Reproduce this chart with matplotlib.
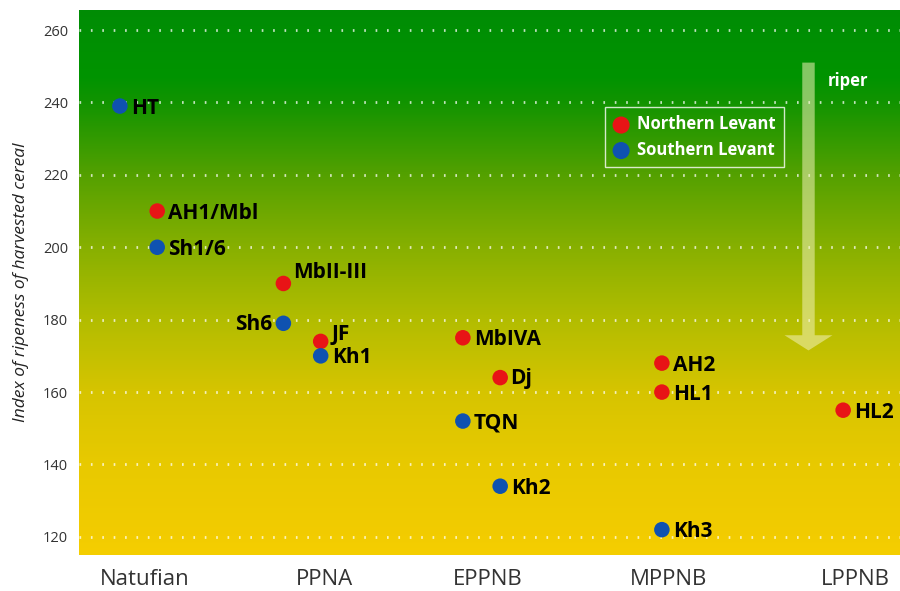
import numpy as np
import matplotlib
matplotlib.use("Agg")
import matplotlib.pyplot as plt
from matplotlib.colors import LinearSegmentedColormap
from matplotlib.patches import FancyArrow

periods = ["Natufian", "PPNA", "EPPNB", "MPPNB", "LPPNB"]
period_pos = [0.0, 1.01, 1.93, 2.95, 4.0]

north_sites = ["AH1/Mbl", "MbII-III", "JF", "MbIVA", "Dj", "AH2", "HL1", "HL2"]
north_x = [0.07, 0.78, 0.99, 1.79, 2.0, 2.91, 2.91, 3.93]
north_y = [210, 190, 174, 175, 164, 168, 160, 155]

south_sites = ["HT", "Sh1/6", "Sh6", "Kh1", "TQN", "Kh2", "Kh3"]
south_x = [-0.14, 0.07, 0.78, 0.99, 1.79, 2.0, 2.91]
south_y = [239, 200, 179, 170, 152, 134, 122]

yticks = [120, 140, 160, 180, 200, 220, 240, 260]

fig = plt.figure(figsize=(9, 5.91), dpi=100)
ax = fig.add_axes([0.0878, 0.0609, 0.9122, 0.922])
xlim = (-0.37, 4.25)
ylim = (115.0, 265.5)

cmap = LinearSegmentedColormap.from_list("ripe", [
    (0.0, (0.96, 0.81, 0.0)),
    (0.033, (0.95, 0.80, 0.0)),
    (0.166, (0.91, 0.79, 0.0)),
    (0.299, (0.84, 0.77, 0.0)),
    (0.432, (0.70, 0.74, 0.0)),
    (0.565, (0.53, 0.69, 0.0)),
    (0.698, (0.33, 0.63, 0.0)),
    (0.831, (0.07, 0.58, 0.0)),
    (0.88, (0.0, 0.58, 0.0)),
    (1.0, (0.0, 0.55, 0.02)),
])
grad = np.linspace(0, 1, 256).reshape(-1, 1)
ax.imshow(grad, extent=[xlim[0], xlim[1], ylim[0], ylim[1]], origin="lower",
          aspect="auto", cmap=cmap, zorder=0)

for yv in yticks:
    ax.axhline(yv, color="white", lw=2.0, ls=(0, (0.6, 3.5)), alpha=0.75, zorder=1)

ax.add_patch(FancyArrow(3.735, 251, 0, -79.5,
                        width=0.07, head_width=0.27, head_length=4.2,
                        length_includes_head=True, color=(0.95, 0.95, 0.72), alpha=0.55,
                        lw=0, zorder=2))
ax.text(3.845, 246, "riper", color="white", fontsize=12, fontweight="bold",
        family="Open Sans", ha="left", va="center", zorder=3)

red = "#e81416"
blue = "#0f52b0"
ax.scatter(north_x, north_y, s=125, color=red, zorder=4, edgecolors="none", label="Northern Levant")
ax.scatter(south_x, south_y, s=125, color=blue, zorder=4, edgecolors="none", label="Southern Levant")

fs = 15
special = {
    "MbII-III": (7, 8, "left"),
    "JF": (7.5, 5, "left"),
    "Sh6": (-8, -1, "right"),
    "Dj": (7.5, -1, "left"),
}
for names, xs, ys in [(north_sites, north_x, north_y), (south_sites, south_x, south_y)]:
    for n, x, y in zip(names, xs, ys):
        dx, dy, ha = special.get(n, (8, -1.5, "left"))
        ax.annotate(n, (x, y), xytext=(dx, dy), textcoords="offset points",
                    ha=ha, va="center", fontsize=fs, fontweight="bold",
                    family="Open Sans", color="black", zorder=5)

leg = ax.legend(loc="upper left", bbox_to_anchor=(0.641, 0.822), frameon=True,
                fancybox=False, handletextpad=0.5, borderpad=0.5, labelspacing=0.45,
                prop={"family": "Open Sans", "weight": "bold", "size": 12}, handlelength=0.9,
                markerscale=1.1, borderaxespad=0)
leg.get_frame().set_facecolor("none")
leg.get_frame().set_edgecolor((1, 1, 1, 0.8))
leg.get_frame().set_linewidth(1.0)
for t in leg.get_texts():
    t.set_color("white")

ax.set_xlim(*xlim)
ax.set_ylim(*ylim)
ax.set_yticks(yticks)
ax.set_yticklabels([str(v) for v in yticks], fontsize=10.5, color="#333333", family="Open Sans")
ax.set_xticks(period_pos)
ax.set_xticklabels(periods, fontsize=16, color="#333333", family="Open Sans")
ax.tick_params(length=0, pad=8)
ax.tick_params(axis="x", pad=10)
for s in ax.spines.values():
    s.set_visible(False)
ax.set_ylabel("Index of ripeness of harvested cereal", fontsize=12.5, style="italic",
              family="Open Sans", color="#222222", labelpad=10)

fig.savefig("out.png", dpi=100)
